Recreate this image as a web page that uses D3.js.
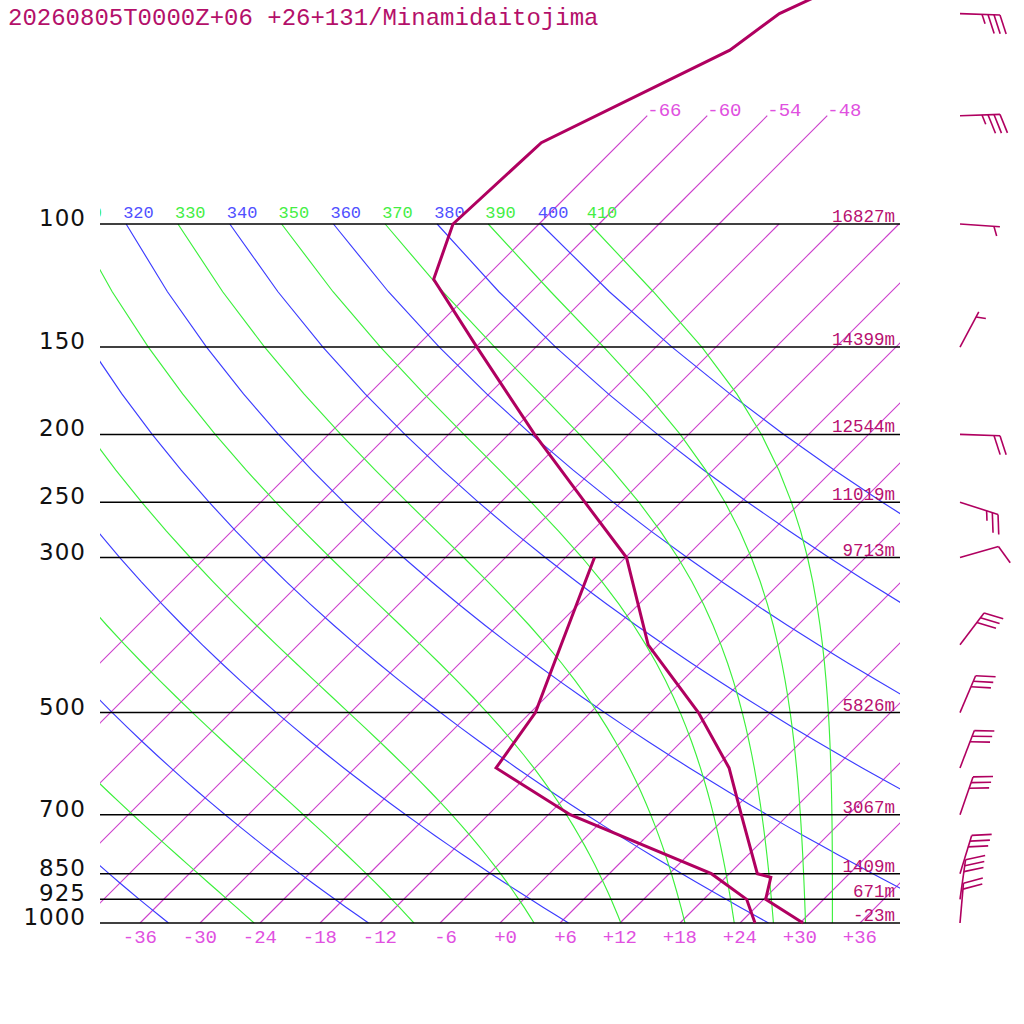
<!DOCTYPE html>
<html><head><meta charset="utf-8">
<script src="https://cdn.jsdelivr.net/npm/d3@7"></script>
<style>html,body{margin:0;padding:0;background:#fff;}svg{display:block;}</style>
</head><body>
<script>
// ---- data ----
const title = "20260805T0000Z+06 +26+131/Minamidaitojima";
const pressureLevels = [100, 150, 200, 250, 300, 500, 700, 850, 925, 1000];
const pressureLabels = ["100", "150", "200", "250", "300", "500", "700", "850", "925", "1000"];
const heightLabels = ["16827m", "14399m", "12544m", "11019m", "9713m", "5826m", "3067m", "1409m", "671m", "-23m"];
const isothermTicks = [-36, -30, -24, -18, -12, -6, 0, 6, 12, 18, 24, 30, 36];
const isotherms = [-66, -60, -54, -48, -42, -36, -30, -24, -18, -12, -6, 0, 6, 12, 18, 24, 30, 36];
const upperIsotherms = [-66, -60, -54, -48];
const dryAdiabats = [240, 260, 280, 300, 320, 340, 360, 380, 400];
const moistAdiabats = [250, 270, 290, 310, 330, 350, 370, 390, 410];
const adiabatPressures = d3.range(100, 1001, 25);
const tempP = [1000, 925, 860, 850, 700, 600, 500, 400, 300, 250, 200, 150, 120, 100, 76.5, 56.4, 50, 46.3];
const tempT = [30.3, 24.2, 22.5, 20.8, 13.3, 7.4, -1.2, -13.0, -23.9, -33.6, -45.4, -59.9, -71.0, -74.6, -73.9, -64.3, -63.0, -60.3];
const dewP = [1000, 925, 850, 700, 600, 500, 400, 300];
const dewT = [25.5, 22.3, 16.2, -3.8, -15.9, -17.5, -21.7, -27.1];
const windP = [1000, 925, 850, 700, 600, 500, 400, 300, 250, 200, 150, 100, 70, 50];
const windDir = [5, 8, 17, 19, 21, 23, 37, 74, 108, 92, 28, 94, 88, 92];
const windSpd = [20, 30, 30, 30, 30, 30, 30, 10, 25, 20, 5, 5, 35, 35];

// ---- setup ----
const W = 1024, H = 1024;
const svg = d3.select("body").append("svg").attr("width", W).attr("height", H);
const y = d3.scaleLog().domain([1000, 100]).range([923, 224]);
const xT = d3.scaleLinear().domain([-40, 40]).range([100, 900]);
const X = (T, p) => xT(T) + (y(1000) - y(p));
const LINE = "#b00060";
const MONO = "'Liberation Mono', 'DejaVu Sans Mono', monospace";

const defs = svg.append("defs");
defs.append("clipPath").attr("id", "plot").append("rect").attr("x", 100).attr("y", 0).attr("width", 800).attr("height", 923.5);

const line = d3.line().x(d => d[0]).y(d => d[1]);

// thermo
const K = 273.15;
function es(Tc) { return 6.112 * Math.exp(17.67 * Tc / (Tc + 243.5)); }
function thetaE(Tk, p) {
  const e = es(Tk - K);
  const r = 1000 * 0.622 * e / Math.max(p - e, 1e-6);
  return Tk * Math.pow(1000 / p, 0.2854 * (1 - 0.28e-3 * r)) * Math.exp((3.376 / Tk - 0.00254) * r * (1 + 0.81e-3 * r));
}
function moistT(te, p) {
  let lo = 120, hi = 340;
  for (let i = 0; i < 60; i++) {
    const mid = (lo + hi) / 2;
    if (thetaE(mid, p) > te) hi = mid; else lo = mid;
  }
  return (lo + hi) / 2 - K;
}
function dryT(th, p) { return th * Math.pow(p / 1000, 0.2854) - K; }

const g = svg.append("g").attr("clip-path", "url(#plot)");

// isotherms
g.selectAll("line.iso").data(isotherms).enter().append("line")
  .attr("x1", d => X(d, 1000)).attr("y1", y(1000))
  .attr("x2", d => X(d, 100)).attr("y2", y(100))
  .attr("stroke", "#cc3fcc").attr("stroke-width", 1.1);
g.selectAll("line.uiso").data(upperIsotherms).enter().append("line")
  .attr("x1", d => X(d, 100)).attr("y1", y(100))
  .attr("x2", d => X(d, 70)).attr("y2", y(70))
  .attr("stroke", "#cc3fcc").attr("stroke-width", 1.1);

// dry adiabats
g.selectAll("path.dry").data(dryAdiabats).enter().append("path")
  .attr("d", th => line(adiabatPressures.map(p => [X(dryT(th, p), p), y(p)])))
  .attr("fill", "none").attr("stroke", "#3c3cff").attr("stroke-width", 1.15);
// moist adiabats
g.selectAll("path.moist").data(moistAdiabats).enter().append("path")
  .attr("d", te => line(adiabatPressures.map(p => [X(moistT(te, p), p), y(p)])))
  .attr("fill", "none").attr("stroke", "#3cf03c").attr("stroke-width", 1.15);

// adiabat labels (only those reaching into the plot area)
const lbl = svg.append("g").attr("clip-path", "url(#plot)");
const allAd = dryAdiabats.map(t => ({ t, c: "#5050ff", x: X(dryT(t, 100), 100) }))
  .concat(moistAdiabats.map(t => ({ t, c: "#44ee44", x: X(moistT(t, 100), 100) })))
  .filter(d => d.x > 60);
lbl.selectAll("text").data(allAd).enter().append("text")
  .attr("x", d => d.x - 3).attr("y", y(100) - 6)
  .attr("fill", d => d.c).attr("font-family", MONO).attr("font-size", 17)
  .text(d => d.t);

// pressure lines
svg.selectAll("line.p").data(pressureLevels).enter().append("line")
  .attr("x1", 100).attr("x2", 900).attr("y1", d => y(d)).attr("y2", d => y(d))
  .attr("stroke", "#000").attr("stroke-width", 1.5);

// pressure labels
svg.selectAll("text.pl").data(pressureLevels).enter().append("text")
  .attr("x", 86).attr("y", d => y(d) + 2).attr("text-anchor", "end")
  .attr("font-family", "'DejaVu Sans', sans-serif").attr("font-size", 23).attr("letter-spacing", 1)
  .attr("fill", "#111").text((d, i) => pressureLabels[i]);

// height labels
svg.selectAll("text.hl").data(pressureLevels).enter().append("text")
  .attr("x", 895).attr("y", d => y(d) - 2).attr("text-anchor", "end")
  .attr("font-family", MONO).attr("font-size", 17.5)
  .attr("fill", "#b81070").text((d, i) => heightLabels[i]);

// isotherm labels
svg.selectAll("text.il").data(isothermTicks).enter().append("text")
  .attr("x", d => X(d, 1000) + 17).attr("y", 943).attr("text-anchor", "end")
  .attr("font-family", MONO).attr("font-size", 19)
  .attr("fill", "#e050e0").text(d => (d < 0 ? "" + d : "+" + d));
svg.selectAll("text.ul").data(upperIsotherms).enter().append("text")
  .attr("x", d => X(d, 70)).attr("y", y(70))
  .attr("font-family", MONO).attr("font-size", 19)
  .attr("fill", "#e050e0").text(d => "" + d);

// temperature & dewpoint
svg.append("path").attr("d", line(tempP.map((p, i) => [X(tempT[i], p), y(p)])))
  .attr("fill", "none").attr("stroke", LINE).attr("stroke-width", 3);
svg.append("path").attr("d", line(dewP.map((p, i) => [X(dewT[i], p), y(p)])))
  .attr("fill", "none").attr("stroke", LINE).attr("stroke-width", 3);

// wind barbs
const bx = 960, staffL = 40, barbL = 20, spacing = 6, rot = 70 * Math.PI / 180;
const wb = svg.append("g").attr("stroke", LINE).attr("stroke-width", 1.6).attr("fill", "none");
windP.forEach((p, i) => {
  const d = windDir[i] * Math.PI / 180;
  const ux = Math.sin(d), uy = -Math.cos(d);
  const bxu = ux * Math.cos(rot) - uy * Math.sin(rot);
  const byu = ux * Math.sin(rot) + uy * Math.cos(rot);
  const by = y(p);
  const tx = bx + ux * staffL, ty = by + uy * staffL;
  wb.append("line").attr("x1", bx).attr("y1", by).attr("x2", tx).attr("y2", ty);
  let s = windSpd[i];
  let pos = 0;
  const full = Math.floor(s / 10);
  const half = (s % 10) >= 5 ? 1 : 0;
  if (full === 0 && half) pos = 1;
  for (let k = 0; k < full; k++) {
    const sx = tx - ux * spacing * pos, sy = ty - uy * spacing * pos;
    wb.append("line").attr("x1", sx).attr("y1", sy).attr("x2", sx + bxu * barbL).attr("y2", sy + byu * barbL);
    pos++;
  }
  if (half) {
    const sx = tx - ux * spacing * pos, sy = ty - uy * spacing * pos;
    wb.append("line").attr("x1", sx).attr("y1", sy).attr("x2", sx + bxu * barbL / 2).attr("y2", sy + byu * barbL / 2);
  }
});

// title
svg.append("text").attr("x", 8).attr("y", 25)
  .attr("font-family", MONO).attr("font-size", 24)
  .attr("fill", "#b4106a").text(title);
</script>
</body></html>
